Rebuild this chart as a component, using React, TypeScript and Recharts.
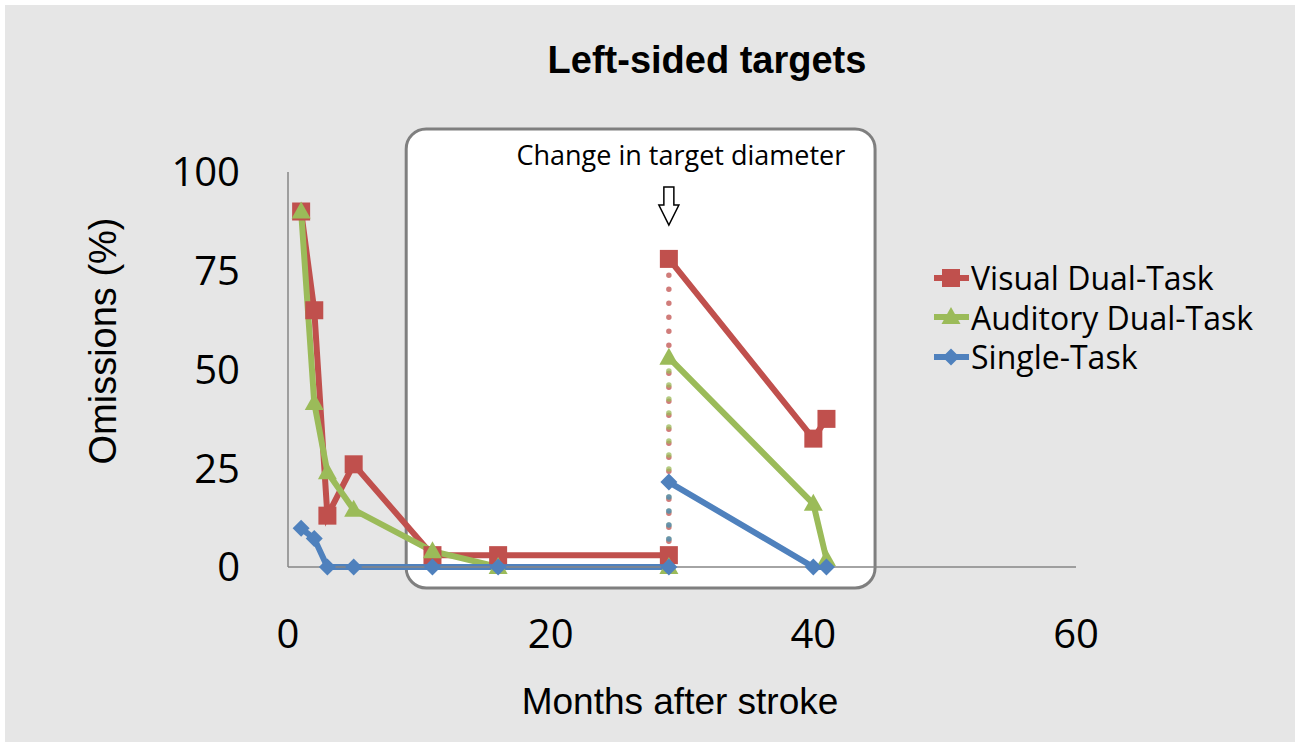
import {
  LineChart,
  Line,
  XAxis,
  YAxis,
  Legend,
  ReferenceArea,
  ReferenceDot,
} from 'recharts';

// months after stroke at each session, before and after the target diameter was changed
const months = [1, 2, 3, 5, 11, 16, 29];
const monthsAfterChange = [29, 40, 41];
const changeMonth = 29;

// omissions (%) for left-sided targets
const visualBefore = [90, 65, 13, 26, 3, 3, 3];
const visualAfter = [78, 32.5, 37.5];
const auditoryBefore = [90, 41.5, 24, 14.5, 4, 0, 0];
const auditoryAfter = [53, 16, 2];
const singleBefore = [9.8, 7.2, 0, 0, 0, 0, 0];
const singleAfter = [21.5, 0, 0];

const xTicks = [0, 20, 40, 60];
const yTicks = [0, 25, 50, 75, 100];

const RED = '#C0504D';
const GREEN = '#9BBB59';
const BLUE = '#4F81BD';
const AXIS = '#868686';
const ARIAL = '"Liberation Sans", Arial, sans-serif';
const CALIBRI = '"Open Sans", "Noto Sans", sans-serif';

type Pt = { x: number; y: number | null };

function buildSeries(before: number[], after: number[]): Pt[] {
  const a = before.map((y, i) => ({ x: months[i], y }));
  const b = after.map((y, i) => ({ x: monthsAfterChange[i], y }));
  return [...a, { x: changeMonth, y: null }, ...b];
}

function buildConnector(before: number[], after: number[]): Pt[] {
  return [
    { x: changeMonth, y: before[before.length - 1] },
    { x: changeMonth, y: after[0] },
  ];
}

type MarkerKind = 'square' | 'triangle' | 'diamond';

function Marker({ kind, cx, cy, fill }: { kind: MarkerKind; cx: number; cy: number; fill: string }) {
  if (kind === 'square') {
    return <rect x={cx - 9} y={cy - 9} width={18} height={18} fill={fill} />;
  }
  if (kind === 'triangle') {
    return <polygon points={`${cx},${cy - 10} ${cx + 9.5},${cy + 7} ${cx - 9.5},${cy + 7}`} fill={fill} />;
  }
  return <polygon points={`${cx},${cy - 8.5} ${cx + 8.5},${cy} ${cx},${cy + 8.5} ${cx - 8.5},${cy}`} fill={fill} />;
}

function dotRenderer(kind: MarkerKind, fill: string) {
  return (p: any) => {
    const k = `${kind}-${p.index}`;
    if (p.cx == null || p.cy == null || p.value == null) return <g key={k} />;
    return (
      <g key={k}>
        <Marker kind={kind} cx={p.cx} cy={p.cy} fill={fill} />
      </g>
    );
  };
}

const series = [
  { name: 'Visual Dual-Task', color: RED, kind: 'square' as MarkerKind, before: visualBefore, after: visualAfter },
  { name: 'Auditory Dual-Task', color: GREEN, kind: 'triangle' as MarkerKind, before: auditoryBefore, after: auditoryAfter },
  { name: 'Single-Task', color: BLUE, kind: 'diamond' as MarkerKind, before: singleBefore, after: singleAfter },
];

function XTick({ x, y, payload }: any) {
  return (
    <text x={x} y={y + 81} textAnchor="middle" fontFamily={CALIBRI} fontSize={40} fill="#000">
      {payload.value}
    </text>
  );
}

function YTick({ x, y, payload }: any) {
  return (
    <text x={x - 48} y={y} dy="0.36em" textAnchor="end" fontFamily={CALIBRI} fontSize={40} fill="#000">
      {payload.value}
    </text>
  );
}

function LegendContent({ payload }: any) {
  const names = new Set((payload || []).map((p: any) => p.value));
  const items = series.filter((s) => names.has(s.name));
  return (
    <div style={{ fontFamily: CALIBRI, fontSize: 32, color: '#000' }}>
      {items.map((s) => (
        <div key={s.name} style={{ display: 'flex', alignItems: 'center', height: 39.5 }}>
          <svg width={38} height={24} style={{ flex: 'none' }}>
            <line x1={1} y1={12} x2={36} y2={12} stroke={s.color} strokeWidth={6} />
            <Marker kind={s.kind} cx={18} cy={12} fill={s.color} />
          </svg>
          <span style={{ whiteSpace: 'nowrap', lineHeight: '39px' }}>{s.name}</span>
        </div>
      ))}
    </div>
  );
}

function Box(props: any) {
  const { x, y, width, height } = props;
  return (
    <rect x={x} y={y} width={width} height={height} rx={20} ry={20} fill="#fff" stroke="#7f7f7f" strokeWidth={3} />
  );
}

function ChangeArrow(props: any) {
  const { cx, cy } = props;
  const top = cy + 15;
  const neck = cy + 33;
  const tip = cy + 53;
  return (
    <g>
      <text x={cx + 12} y={cy - 7} textAnchor="middle" fontFamily={CALIBRI} fontSize={27} fill="#000">
        Change in target diameter
      </text>
      <polygon
        points={`${cx - 5},${top} ${cx + 5},${top} ${cx + 5},${neck} ${cx + 10},${neck} ${cx},${tip} ${cx - 10},${neck} ${cx - 5},${neck}`}
        fill="#fff"
        stroke="#000"
        strokeWidth={1.5}
      />
    </g>
  );
}

export default function App() {
  return (
    <div style={{ position: 'absolute', left: 0, top: 0, width: 1300, height: 748, background: '#fff' }}>
      <div style={{ position: 'absolute', left: 5, top: 5, width: 1290, height: 737, background: '#e6e6e6' }} />
      <div style={{ position: 'absolute', left: 0, top: 0 }}>
        <LineChart width={1300} height={748} margin={{ top: 172, right: 224, bottom: 141, left: 228 }}>
          <ReferenceArea
            x1={9}
            x2={44.7}
            y1={-5.3}
            y2={110.9}
            ifOverflow="visible"
            shape={<Box />}
          />
          <XAxis
            type="number"
            dataKey="x"
            domain={[0, 60]}
            ticks={xTicks}
            height={40}
            tickLine={false}
            tickSize={0}
            tickMargin={0}
            axisLine={{ stroke: AXIS, strokeWidth: 1.5 }}
            tick={<XTick />}
          />
          <YAxis
            type="number"
            domain={[0, 100]}
            ticks={yTicks}
            width={60}
            tickLine={false}
            tickSize={0}
            tickMargin={0}
            axisLine={{ stroke: AXIS, strokeWidth: 1.5 }}
            tick={<YTick />}
          />
          <ReferenceDot x={changeMonth} y={100} r={0} ifOverflow="visible" shape={<ChangeArrow />} />
          {series.map((s) => (
            <Line
              key={`${s.name}-link`}
              data={buildConnector(s.before, s.after)}
              dataKey="y"
              name={`${s.name} link`}
              stroke={s.color}
              strokeOpacity={0.75}
              strokeWidth={5.5}
              strokeDasharray="0 14"
              strokeLinecap="round"
              dot={false}
              activeDot={false}
              legendType="none"
              isAnimationActive={false}
            />
          ))}
          {series.map((s) => (
            <Line
              key={s.name}
              data={buildSeries(s.before, s.after)}
              dataKey="y"
              name={s.name}
              type="linear"
              stroke={s.color}
              strokeWidth={6}
              connectNulls={false}
              dot={dotRenderer(s.kind, s.color)}
              activeDot={false}
              isAnimationActive={false}
            />
          ))}
          <Legend
            layout="vertical"
            align="center"
            verticalAlign="middle"
            wrapperStyle={{ left: 933, top: 258, width: 360 }}
            content={<LegendContent />}
          />
          <text x={707} y={73} textAnchor="middle" fontFamily={ARIAL} fontWeight="bold" fontSize={38} fill="#000">
            Left-sided targets
          </text>
          <text
            transform="translate(116, 341) rotate(-90)"
            textAnchor="middle"
            fontFamily={ARIAL}
            fontSize={38}
            fill="#000"
          >
            Omissions (%)
          </text>
          <text x={680} y={714} textAnchor="middle" fontFamily={ARIAL} fontSize={37} fill="#000">
            Months after stroke
          </text>
        </LineChart>
      </div>
    </div>
  );
}
